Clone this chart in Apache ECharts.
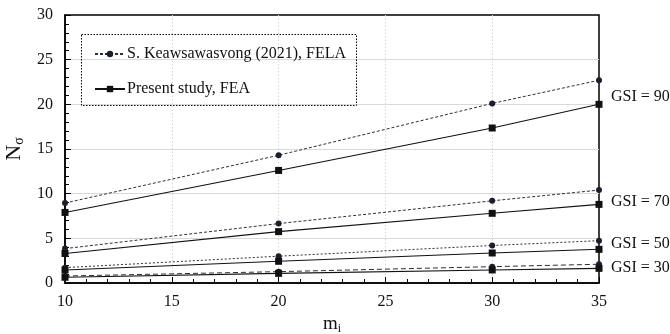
<!DOCTYPE html>
<html><head><meta charset="utf-8">
<script src="https://cdn.jsdelivr.net/npm/echarts@6/dist/echarts.min.js"></script>
<style>html,body{margin:0;padding:0;background:#fff}#c{width:670px;height:334px}</style>
</head><body><div id="c"></div>
<script>
const mi = [10, 20, 30, 35];
const fela90 = [8.95, 14.3, 20.1, 22.7];
const fela70 = [3.85, 6.65, 9.2, 10.4];
const fela50 = [1.72, 3.0, 4.2, 4.74];
const fela30 = [0.78, 1.27, 1.83, 2.1];
const fea90 = [7.9, 12.6, 17.35, 20.0];
const fea70 = [3.3, 5.75, 7.8, 8.8];
const fea50 = [1.46, 2.43, 3.36, 3.77];
const fea30 = [0.64, 1.08, 1.46, 1.64];
const gsiLabels = ['GSI = 90', 'GSI = 70', 'GSI = 50', 'GSI = 30'];
const felaName = 'S. Keawsawasvong (2021), FELA';
const feaName = 'Present study, FEA';

const font = 'Liberation Serif';
const pair = (arr) => mi.map((x, i) => [x, arr[i]]);
function felaSeries(arr, dash) {
  return { name: felaName, type: 'line', data: pair(arr), symbol: 'circle', symbolSize: 6,
    lineStyle: { color: '#2a2f3a', width: 1, type: dash }, itemStyle: { color: '#1a1f2e' }, z: 3 };
}
function feaSeries(arr) {
  return { name: feaName, type: 'line', data: pair(arr), symbol: 'rect', symbolSize: 7,
    lineStyle: { color: '#111', width: 1.1, type: 'solid' }, itemStyle: { color: '#111' }, z: 3 };
}
const chart = echarts.init(document.getElementById('c'));
const option = {
  animation: false,
  textStyle: { fontFamily: font },
  grid: { left: 65, right: 71, top: 15, bottom: 51, show: true, borderColor: '#000', borderWidth: 1.5, containLabel: false, outerBoundsMode: 'none' },
  legend: {
    left: 89, top: 41, orient: 'vertical', itemGap: 19, itemWidth: 30, itemHeight: 8,
    textStyle: { fontFamily: font, fontSize: 16, color: '#111', padding: [0, 0, 0, -3] },
    data: [felaName, feaName]
  },
  graphic: [
    { type: 'rect', shape: { x: 81.5, y: 34.5, width: 275, height: 71 }, style: { fill: 'none', stroke: '#000', lineWidth: 1, lineDash: [1.5, 1.5] }, z: 10 },
    { type: 'text', left: 611, top: 89, style: { text: gsiLabels[0], fontFamily: font, fontSize: 16, fill: '#111' } },
    { type: 'text', left: 611, top: 194, style: { text: gsiLabels[1], fontFamily: font, fontSize: 16, fill: '#111' } },
    { type: 'text', left: 611, top: 236, style: { text: gsiLabels[2], fontFamily: font, fontSize: 16, fill: '#111' } },
    { type: 'text', left: 611, top: 260, style: { text: gsiLabels[3], fontFamily: font, fontSize: 16, fill: '#111' } }
  ],
  xAxis: {
    type: 'value', min: 10, max: 35, interval: 5,
    name: '{m|m}{s|i}', nameLocation: 'middle', nameGap: 31,
    nameTextStyle: { rich: { m: { fontFamily: font, fontSize: 19, color: '#111' }, s: { fontFamily: font, fontSize: 12, color: '#111', verticalAlign: 'bottom', padding: [9, 0, 0, 0] } } },
    axisLine: { lineStyle: { color: '#000', width: 1.5 } },
    axisTick: { inside: true, length: 6, lineStyle: { color: '#000' } },
    minorTick: { show: true, splitNumber: 5, length: 4, lineStyle: { color: '#000' } },
    axisLabel: { fontFamily: font, fontSize: 16, color: '#111', margin: 11 },
    splitLine: { show: true, showMinLine: false, showMaxLine: false, lineStyle: { color: '#d6d6d6', type: [1.5, 2] } }
  },
  yAxis: {
    type: 'value', min: 0, max: 30, interval: 5,
    name: '{m|N}{s|σ}', nameLocation: 'middle', nameGap: 36, nameRotate: 90,
    nameTextStyle: { rich: { m: { fontFamily: font, fontSize: 22, color: '#111' }, s: { fontFamily: font, fontSize: 14, color: '#111', verticalAlign: 'bottom', padding: [9, 0, 0, 0] } } },
    axisLine: { lineStyle: { color: '#000', width: 1.5 } },
    axisTick: { inside: true, length: 6, lineStyle: { color: '#000' } },
    minorTick: { show: true, splitNumber: 5, length: 4, lineStyle: { color: '#000' } },
    axisLabel: { fontFamily: font, fontSize: 16, color: '#111', margin: 12 },
    splitLine: { show: true, showMinLine: false, showMaxLine: false, lineStyle: { color: '#d9d9d9', width: 1 } }
  },
  series: [
    felaSeries(fela90, [3, 2]), feaSeries(fea90),
    felaSeries(fela70, [3, 2]), feaSeries(fea70),
    felaSeries(fela50, [2, 2]), feaSeries(fea50),
    felaSeries(fela30, [5, 3]), feaSeries(fea30)
  ]
};
chart.setOption(option);
</script></body></html>
